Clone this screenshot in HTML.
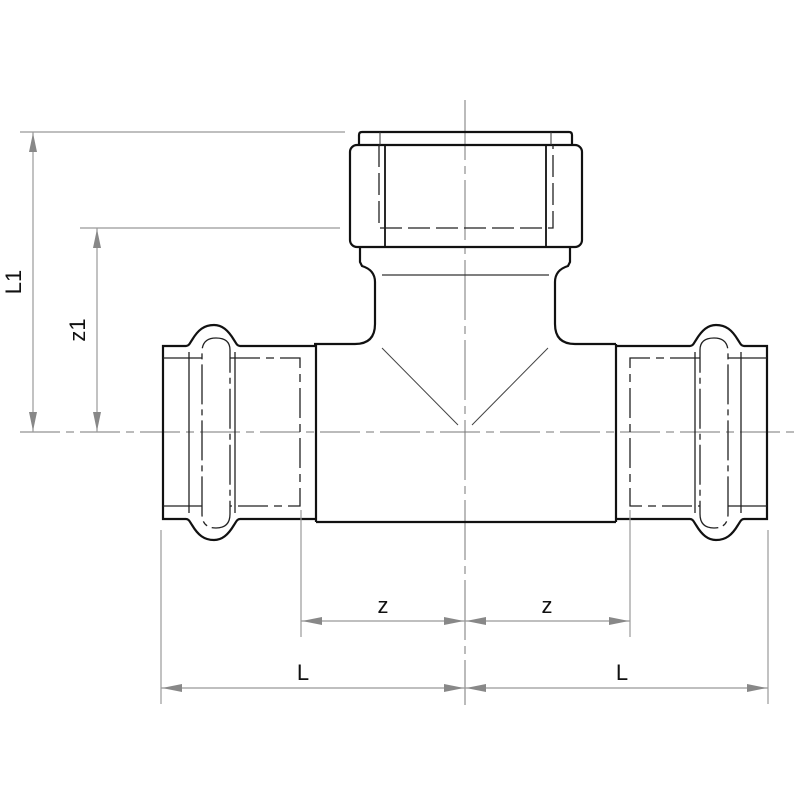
<!DOCTYPE html>
<html><head><style>html,body{margin:0;padding:0;background:#fff;}svg{display:block}</style></head>
<body>
<svg width="800" height="800" viewBox="0 0 800 800" xmlns="http://www.w3.org/2000/svg">
<defs>
<g id="sock">
<path d="M615,346 L690,346 C693,346 694,343 696,340 C702,330 708,325 716,325 C726,325 732,330 738,340 C740,343 741,346 744,346 L767,346 L767,519 L744,519 C741,519 740,522 738,525 C732,535 726,540 716,540 C708,540 702,535 696,525 C694,522 693,519 690,519 L615,519" fill="none" stroke="#111" stroke-width="2.2"/>
<path d="M700,350 Q700,338 714,338 Q728,338 728,352 L728,514 Q728,528 714,528 Q700,528 700,514 Z" fill="none" stroke="#222" stroke-width="1.3" stroke-dasharray="40,5,6,5"/>
<line x1="695" y1="352" x2="695" y2="513" stroke="#222" stroke-width="1.3"/>
<line x1="741" y1="352" x2="741" y2="513" stroke="#222" stroke-width="1.3"/>
<line x1="728" y1="358" x2="767" y2="358" stroke="#222" stroke-width="1.3"/>
<line x1="728" y1="506" x2="767" y2="506" stroke="#222" stroke-width="1.3"/>
<path d="M700,358 L630,358 L630,506 L700,506" fill="none" stroke="#222" stroke-width="1.3" stroke-dasharray="30,6,8,6"/>
<path d="M616,344 L575,344 Q555,344 555,324 L555,282 Q555,270 568,266 L570,262 L570,247" fill="none" stroke="#111" stroke-width="2.2"/>
</g>
</defs>
<g fill="none">
<line x1="20" y1="432" x2="795" y2="432" stroke="#777" stroke-width="1" stroke-dasharray="40,6,8,6"/>
<line x1="465" y1="100" x2="465" y2="705" stroke="#777" stroke-width="1" stroke-dasharray="60,6,8,6"/>
<path d="M316,522 L616,522 M316,344 L316,522 M616,344 L616,522" stroke="#111" stroke-width="2.2"/>
<use href="#sock"/>
<use href="#sock" transform="matrix(-1 0 0 1 930 0)"/>
<path d="M359,145 L359,135 Q359,132 362,132 L569,132 Q572,132 572,135 L572,145" stroke="#111" stroke-width="2.2"/>
<rect x="350" y="145" width="232" height="102" rx="7" stroke="#111" stroke-width="2.2"/>
<line x1="385" y1="145" x2="385" y2="247" stroke="#111" stroke-width="1.8"/>
<line x1="546" y1="145" x2="546" y2="247" stroke="#111" stroke-width="1.8"/>
<line x1="380" y1="132" x2="380" y2="145" stroke="#333" stroke-width="1"/>
<line x1="551" y1="132" x2="551" y2="145" stroke="#333" stroke-width="1"/>
<path d="M379,145 L379,228 L553,228 L553,145" stroke="#222" stroke-width="1.3" stroke-dasharray="22,6"/>
<line x1="382" y1="275" x2="549" y2="275" stroke="#333" stroke-width="1.2"/>
<line x1="382" y1="348" x2="458" y2="425" stroke="#444" stroke-width="1"/>
<line x1="548" y1="348" x2="472" y2="425" stroke="#444" stroke-width="1"/>
<g stroke="#999" stroke-width="1.2">
<line x1="20" y1="132" x2="345" y2="132"/>
<line x1="80" y1="228" x2="340" y2="228"/>
<line x1="33" y1="132" x2="33" y2="432"/>
<line x1="97" y1="228" x2="97" y2="432"/>
<line x1="161" y1="530" x2="161" y2="704"/>
<line x1="768" y1="530" x2="768" y2="704"/>
<line x1="301" y1="510" x2="301" y2="637"/>
<line x1="630" y1="510" x2="630" y2="637"/>
<line x1="301" y1="621" x2="630" y2="621"/>
<line x1="161" y1="688" x2="768" y2="688"/>
</g>
<g fill="#888" stroke="none">
<path d="M33,133 L29,152 L37,152 Z"/><path d="M33,431 L29,412 L37,412 Z"/>
<path d="M97,229 L93,248 L101,248 Z"/><path d="M97,431 L93,412 L101,412 Z"/>
<path d="M302,621 L322,617 L322,625 Z"/><path d="M464,621 L444,617 L444,625 Z"/>
<path d="M466,621 L486,617 L486,625 Z"/><path d="M629,621 L609,617 L609,625 Z"/>
<path d="M162,688 L182,684 L182,692 Z"/><path d="M464,688 L444,684 L444,692 Z"/>
<path d="M466,688 L486,684 L486,692 Z"/><path d="M767,688 L747,684 L747,692 Z"/>
</g>
</g>
<g font-family="Liberation Sans, sans-serif" font-size="22" fill="#111">
<text x="383" y="613" text-anchor="middle">z</text>
<text x="547" y="613" text-anchor="middle">z</text>
<text x="303" y="680" text-anchor="middle">L</text>
<text x="622" y="680" text-anchor="middle">L</text>
<text transform="translate(21,282) rotate(-90)" text-anchor="middle">L1</text>
<text transform="translate(85,330) rotate(-90)" text-anchor="middle">z1</text>
</g>
</svg>
</body></html>
